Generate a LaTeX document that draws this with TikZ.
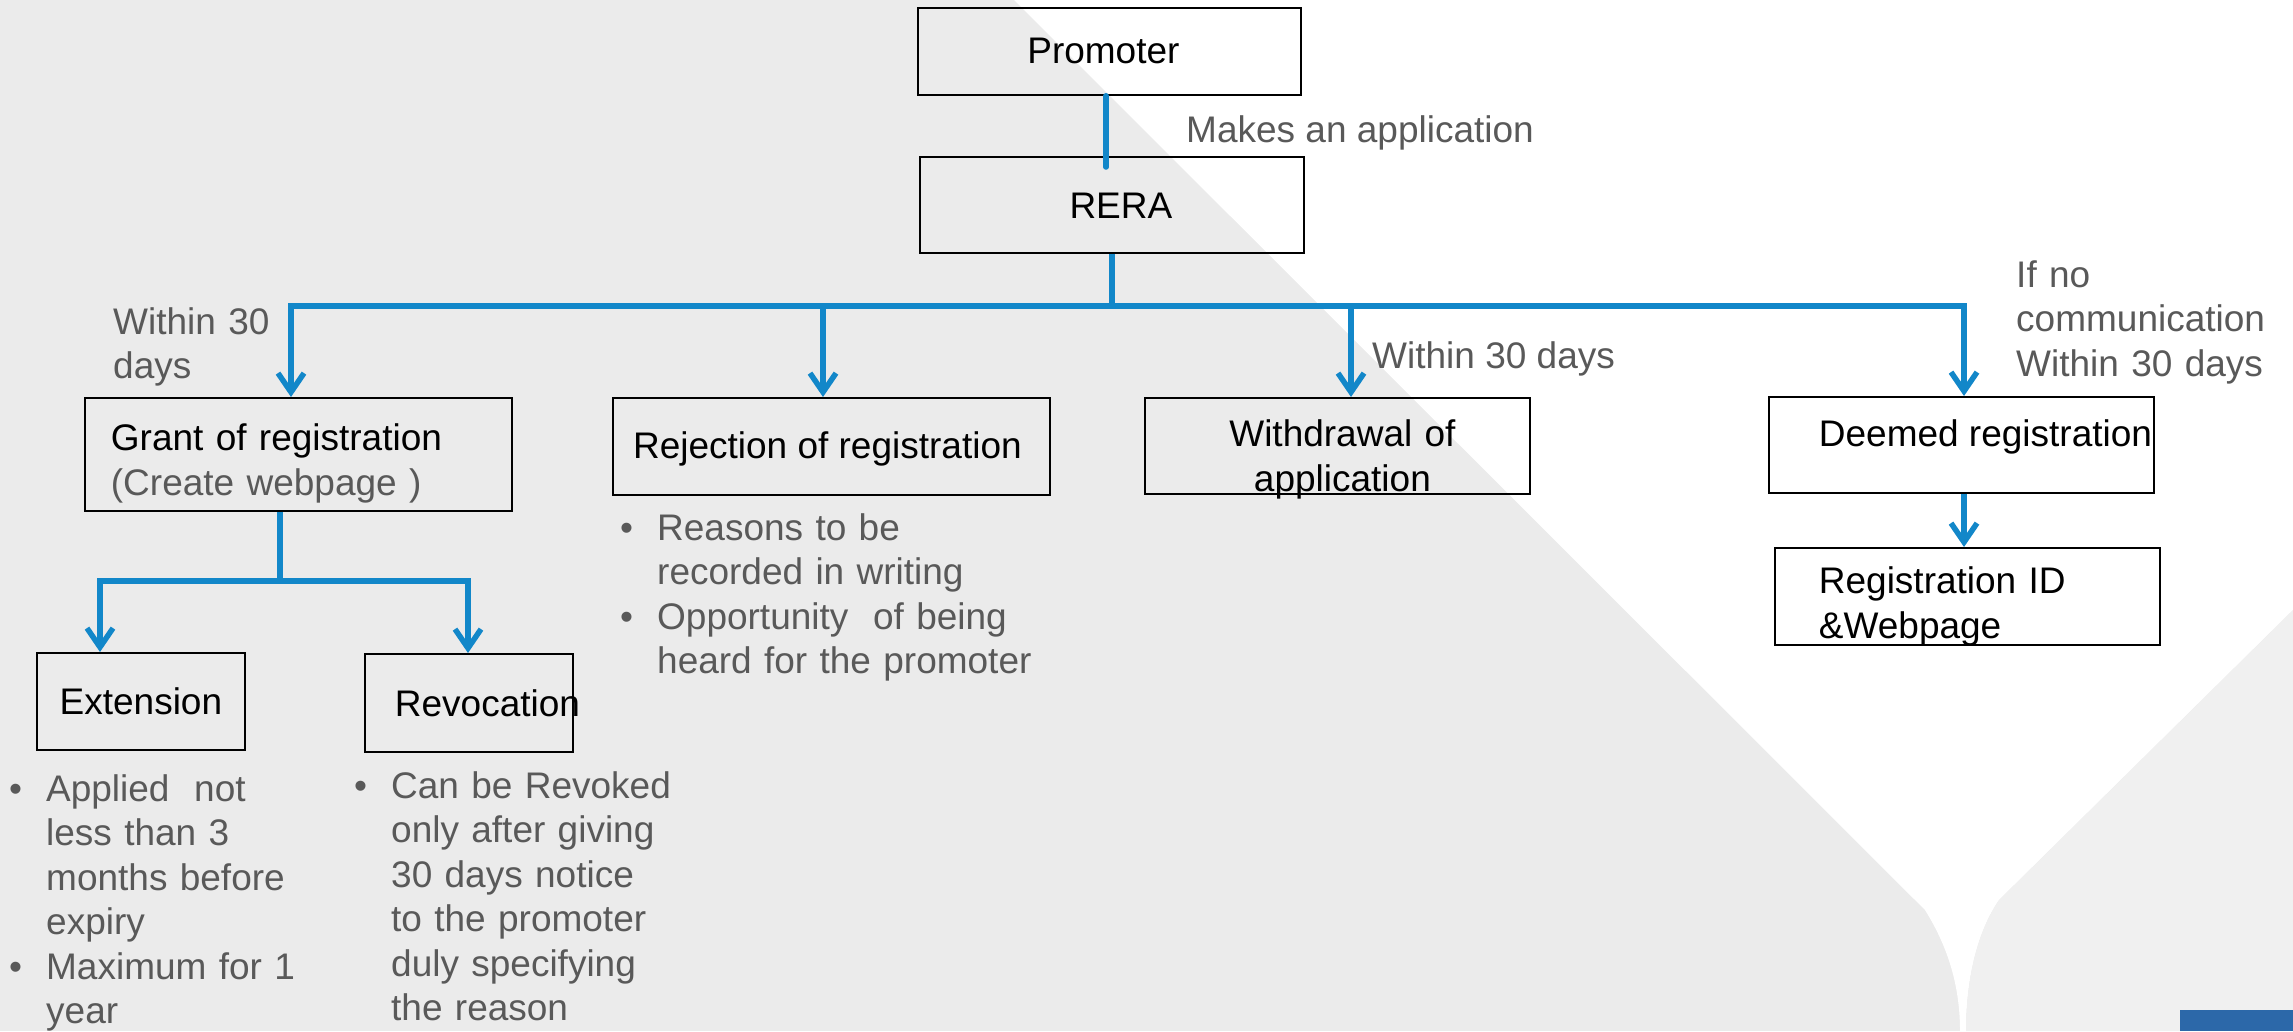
\documentclass[tikz,border=0pt]{standalone}
\usepackage{fontspec}
\setmainfont{Liberation Sans}
\usepackage{tikz}
\usetikzlibrary{arrows.meta,positioning}

\definecolor{bgleft}{HTML}{EBEBEB}
\definecolor{bgright}{HTML}{F0F0F0}
\definecolor{cornerblue}{HTML}{2C68A9}
\definecolor{linkblue}{HTML}{1287C9}
\definecolor{txtgray}{HTML}{595959}

\newcommand\mainsize{\fontsize{37}{44.5}\selectfont}
\newcommand\bul{\makebox[37pt][l]{•}}
\newcommand\ind{\hspace*{37pt}}

\tikzset{
    box/.style={draw=black, line width=1.8pt, inner xsep=0pt, inner ysep=0pt, anchor=north west, font=\mainsize, text=black},
    note/.style={inner sep=0pt, anchor=base west, align=left, font=\mainsize, text=txtgray},
    link/.style={draw=linkblue, line width=5.5pt},
    arr/.style={link, -{Straight Barb[length=19pt,width=26pt]}}
}

\begin{document}
\begin{tikzpicture}[x=1pt, y=-1pt]
    \useasboundingbox (0,0) rectangle (2293,1031);
    % background
    \fill[bgleft] (0,0) rectangle (2293,1031);
    \fill[white] (1014,0) -- (1925,910) .. controls (1950,950) and (1960,990) .. (1960,1031)
        -- (1966,1031) .. controls (1966,985) and (1975,935) .. (1999,900) -- (2293,610) -- (2293,0) -- cycle;
    \fill[bgright] (2293,610) -- (1999,900) .. controls (1975,935) and (1966,985) .. (1966,1031) -- (2293,1031) -- cycle;
    \fill[cornerblue] (2180,1010) rectangle (2293,1031);

    % boxes
    \node[box, minimum width=383pt, text height=56pt, text depth=31pt] (promoter) at (917,7) {Promoter\hspace*{12pt}};
    \node[box, minimum width=384pt, text height=62pt, text depth=34pt] (rera) at (919,156) {\hspace*{18pt}RERA};
    \node[box, inner xsep=26pt, text width=375pt, align=left, text height=53pt, text depth=60pt] (grant) at (84,397)
        {Grant of registration\\\textcolor{txtgray}{(Create webpage )}};
    \node[box, minimum width=437pt, text height=61pt, text depth=36pt] (reject) at (612,397) {Rejection of registration\hspace*{8pt}};
    \node[box, text width=385pt, align=center, text height=49pt, text depth=47pt] (withdraw) at (1144,397)
        {\hspace*{10pt}Withdrawal of\\\hspace*{10pt}application};
    \node[box, inner xsep=50pt, text height=50pt, text depth=46pt] (deemed) at (1768,396)
        {\makebox[285pt][l]{Deemed registration}};
    \node[box, inner xsep=44pt, text width=297pt, align=left, text height=46pt, text depth=51pt] (regid) at (1774,547)
        {Registration ID\\\&Webpage};
    \node[box, minimum width=208pt, text height=62pt, text depth=35pt] (extend) at (36,652) {Extension};
    \node[box, inner xsep=30pt, text height=63pt, text depth=35pt] (revoke) at (364,653)
        {\makebox[148pt][l]{Revocation}};

    % labels
    \node[note] (makes) at (1186,142) {Makes an application};
    \node[note, text width=200pt] (within1) at (113,334) {Within 30\\days};
    \node[note] (within2) at (1372,368) {Within 30 days};
    \node[note, text width=270pt] (ifno) at (2016,287) {If no\\communication\\Within 30 days};
    \node[note, text width=440pt] (rejnote) at (620,540)
        {\bul Reasons to be\\\ind recorded in writing\\\bul Opportunity\ \ of being\\\ind heard for the promoter};
    \node[note, text width=300pt] (extnote) at (9,801)
        {\bul Applied\ \ not\\\ind less than 3\\\ind months before\\\ind expiry\\\bul Maximum for 1\\\ind year};
    \node[note, text width=320pt] (revnote) at (354,798)
        {\bul Can be Revoked\\\ind only after giving\\\ind 30 days notice\\\ind to the promoter\\\ind duly specifying\\\ind the reason};

    % connectors
    \coordinate (bus) at (0,306);
    \coordinate (pStem) at (1106,0);
    \coordinate (dGrant) at (291,306);
    \coordinate (dReject) at (823,306);
    \coordinate (dWithdraw) at (1351,306);
    \coordinate (dDeemed) at (1964,306);
    \coordinate (gStem) at (280,581);
    \coordinate (dExtend) at (100,581);
    \coordinate (dRevoke) at (468,581);

    \draw[link, line cap=round] (pStem |- promoter.south) -- ([yshift=-11pt]pStem |- rera.north);
    \draw[link] (rera.south) -- (rera.south |- bus);
    \draw[link, line cap=rect] (dGrant) -- (dDeemed);
    \foreach \d/\n in {dGrant/grant, dReject/reject, dWithdraw/withdraw, dDeemed/deemed}
        {\draw[arr] (\d) -- (\d |- \n.north);}
    \draw[arr] (dDeemed |- deemed.south) -- (dDeemed |- regid.north);
    \draw[link] (gStem |- grant.south) -- (gStem);
    \draw[link, line cap=rect] (dExtend) -- (dRevoke);
    \draw[arr] (dExtend) -- (dExtend |- extend.north);
    \draw[arr] (dRevoke) -- (dRevoke |- revoke.north);
\end{tikzpicture}
\end{document}
